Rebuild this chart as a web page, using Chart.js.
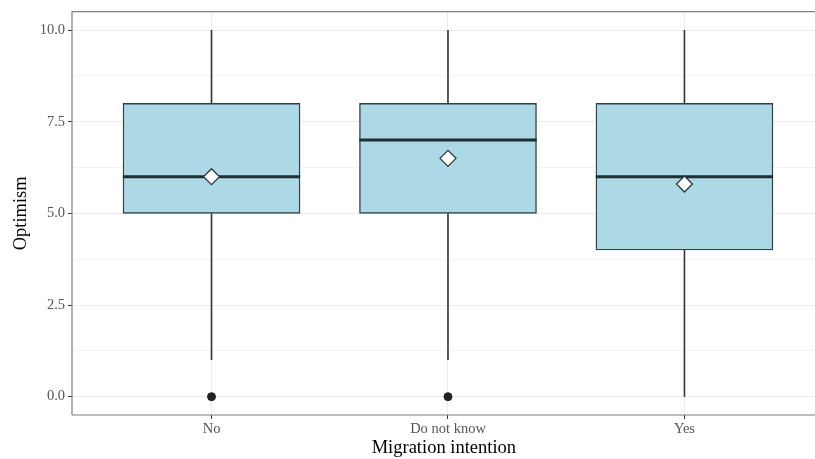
<!DOCTYPE html>
<html>
<head>
<meta charset="utf-8">
<script src="https://cdn.jsdelivr.net/npm/chart.js@4"></script>
<style>
  html, body { margin: 0; padding: 0; background: #fff; overflow: hidden; }
  #wrap { width: 815px; height: 459px; overflow: hidden; }
</style>
</head>
<body>
<div id="wrap"><canvas id="boxChart" width="825" height="459"></canvas></div>
<script>
// categories and box stats
var categories = ['No', 'Do not know', 'Yes'];
var whiskerLow = [1, 1, 0];
var q1 = [5, 5, 4];
var median = [6, 7, 6];
var q3 = [8, 8, 8];
var whiskerHigh = [10, 10, 10];
var means = [6.0, 6.5, 5.8];
var outliers = [[0], [0], []];
var yTicks = [0, 2.5, 5, 7.5, 10];

var halfBox = 0.375;
var font = 'Liberation Serif, Times New Roman, serif';

var boxData = [], whiskerData = [], medianData = [], meanData = [], outlierData = [];
for (var i = 0; i < categories.length; i++) {
  var x = i + 1;
  boxData.push({x: x, y: [q1[i], q3[i]]});
  whiskerData.push({x: x, y: whiskerLow[i]}, {x: x, y: q1[i]}, {x: x, y: null});
  whiskerData.push({x: x, y: q3[i]}, {x: x, y: whiskerHigh[i]}, {x: x, y: null});
  medianData.push({x: x - halfBox, y: median[i]}, {x: x + halfBox, y: median[i]}, {x: x, y: null});
  meanData.push({x: x, y: means[i]});
  outliers[i].forEach(function(v){ outlierData.push({x: x, y: v}); });
}

var frame = {
  id: 'frame',
  afterDatasetsDraw: function(chart) {
    var a = chart.chartArea, ctx = chart.ctx;
    ctx.save();
    ctx.strokeStyle = '#7f7f7f';
    ctx.lineWidth = 1.2;
    ctx.beginPath();
    ctx.moveTo(a.left, a.bottom);
    ctx.lineTo(a.left, a.top);
    ctx.lineTo(a.right + 10, a.top);
    ctx.moveTo(a.left, a.bottom);
    ctx.lineTo(a.right + 10, a.bottom);
    ctx.stroke();
    ctx.restore();
  }
};

var ctx = document.getElementById('boxChart');
var chart = new Chart(ctx, {
  type: 'bar',
  data: {
    datasets: [
      {
        type: 'bar',
        data: boxData,
        backgroundColor: '#ADD8E6',
        borderColor: '#2f4045',
        borderWidth: 1.4,
        borderSkipped: false,
        barThickness: 177,
        order: 5
      },
      {
        type: 'line',
        data: whiskerData,
        borderColor: '#333333',
        borderWidth: 1.6,
        pointRadius: 0,
        spanGaps: false,
        order: 4
      },
      {
        type: 'line',
        data: medianData,
        borderColor: '#1f2e30',
        borderWidth: 3,
        pointRadius: 0,
        spanGaps: false,
        order: 3
      },
      {
        type: 'scatter',
        data: outlierData,
        pointStyle: 'circle',
        pointRadius: 4,
        backgroundColor: '#222222',
        borderColor: '#222222',
        order: 2
      },
      {
        type: 'scatter',
        data: meanData,
        pointStyle: 'rectRot',
        pointRadius: 8,
        backgroundColor: '#ffffff',
        borderColor: '#2a3a3d',
        borderWidth: 1.3,
        order: 1
      }
    ]
  },
  options: {
    responsive: false,
    animation: false,
    layout: { padding: { top: 11, right: 0, left: 0, bottom: 0 } },
    plugins: { legend: { display: false }, tooltip: { enabled: false } },
    scales: {
      x: {
        type: 'linear',
        offset: false,
        min: 0.41,
        max: 3.555,
        afterBuildTicks: function(scale) {
          scale.ticks = categories.map(function(c, i){ return {value: i + 1}; });
        },
        afterFit: function(scale) { scale.height = 44; },
        ticks: {
          callback: function(v) { return categories[v - 1]; },
          color: '#555555',
          font: { family: font, size: 14.5 },
          padding: 1,
          maxRotation: 0
        },
        grid: { offset: false, color: '#ebebeb', lineWidth: 1, tickColor: '#333333', tickLength: 4 },
        border: { display: false },
        title: {
          display: true,
          text: 'Migration intention',
          color: '#000000',
          font: { family: font, size: 18.5 },
          padding: { top: 0, bottom: 0 }
        }
      },
      yMinor: {
        type: 'linear',
        position: 'left',
        min: -0.5,
        max: 10.5,
        display: true,
        afterFit: function(scale) { scale.width = 0; },
        afterBuildTicks: function(scale) {
          scale.ticks = [1.25, 3.75, 6.25, 8.75].map(function(v){ return {value: v}; });
        },
        ticks: { display: false },
        grid: { color: '#f4f4f4', lineWidth: 1, drawTicks: false },
        border: { display: false }
      },
      y: {
        type: 'linear',
        position: 'left',
        min: -0.5,
        max: 10.5,
        afterBuildTicks: function(scale) {
          scale.ticks = yTicks.map(function(v){ return {value: v}; });
        },
        afterFit: function(scale) { scale.width = 72; },
        ticks: {
          callback: function(v) { return v.toFixed(1); },
          color: '#555555',
          font: { family: font, size: 14.5 },
          padding: 3
        },
        grid: { color: '#ebebeb', lineWidth: 1, tickColor: '#333333', tickLength: 4 },
        border: { display: false },
        title: {
          display: true,
          text: 'Optimism',
          color: '#000000',
          font: { family: font, size: 18.5 },
          padding: { top: 10, bottom: 0 }
        }
      }
    }
  },
  plugins: [frame]
});
</script>
</body>
</html>
